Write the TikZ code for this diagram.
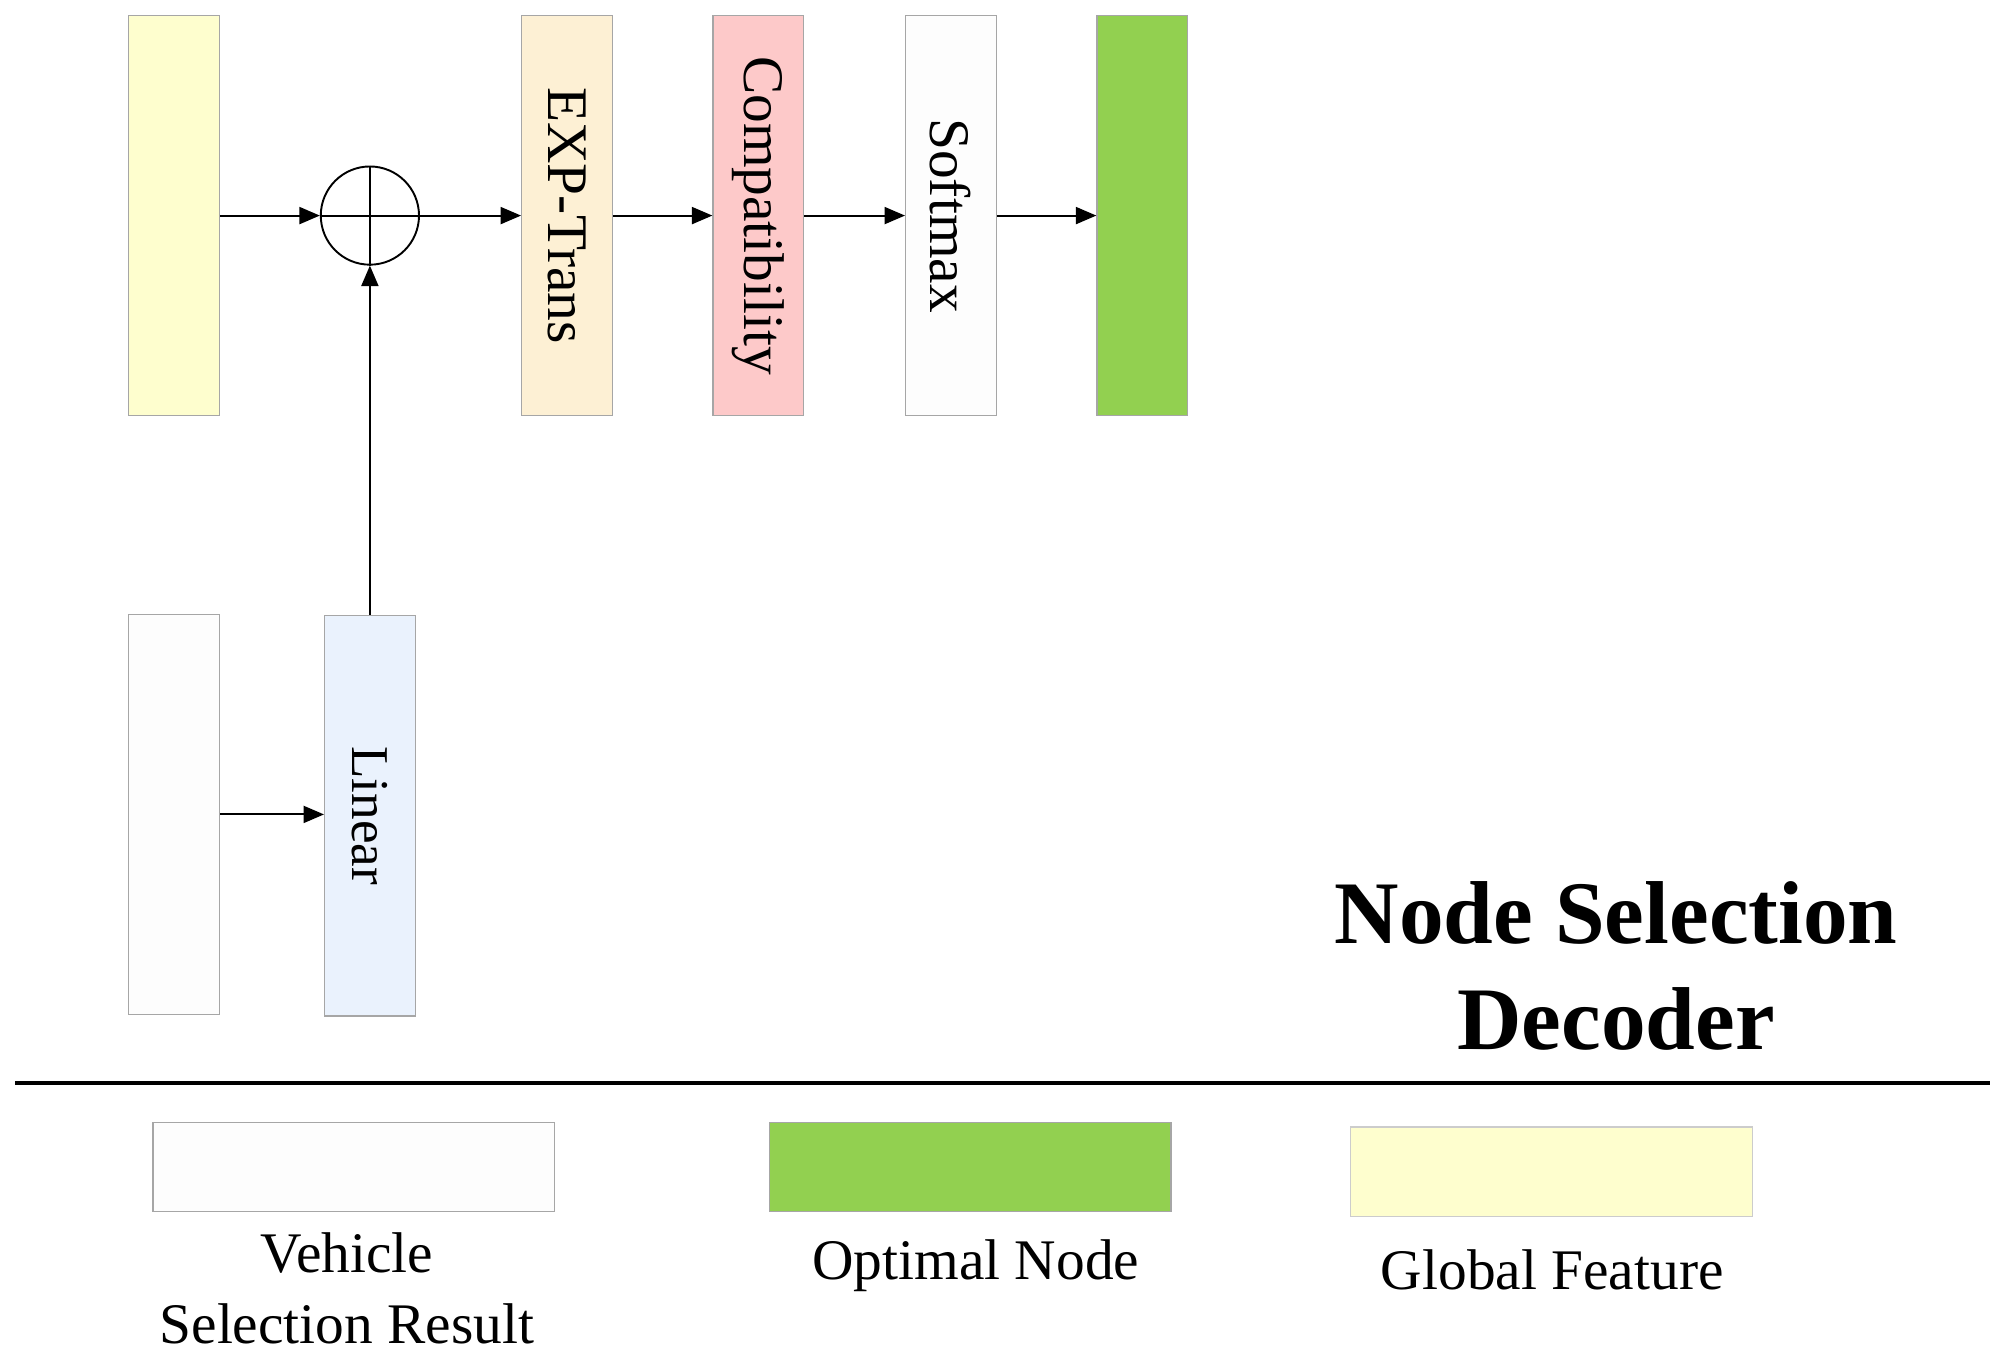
\documentclass[tikz,border=0pt]{standalone}
\usepackage{fontspec}
\setmainfont{Liberation Serif}
\usetikzlibrary{arrows.meta}
\definecolor{gfyellow}{HTML}{FEFECE}
\definecolor{exporange}{HTML}{FDF0D4}
\definecolor{comppink}{HTML}{FDC9C9}
\definecolor{optgreen}{HTML}{92D050}
\definecolor{linblue}{HTML}{EAF2FD}
\definecolor{boxwhite}{HTML}{FDFDFD}
\begin{document}
\begin{tikzpicture}[x=0.6pt,y=-0.6pt,
  bar/.style={draw=gray!70, line width=0.6pt, minimum width=42.6pt, minimum height=188.4pt, inner sep=0pt},
  legbox/.style={draw=gray!70, line width=0.6pt, minimum width=189pt, minimum height=42pt, inner sep=0pt},
  vlabel/.style={rotate=-90, font=\fontsize{27pt}{32pt}\selectfont, inner sep=0pt},
  legtext/.style={anchor=base, font=\fontsize{27pt}{32pt}\selectfont, inner sep=0pt},
  titletext/.style={anchor=base, font=\fontsize{42pt}{50pt}\selectfont\bfseries, inner sep=0pt},
  arr/.style={-{Triangle[length=9.6pt,width=8pt]}, line width=0.9pt},
  plainline/.style={line width=0.9pt}
]
\useasboundingbox (0,0) rectangle (1568,1071);
\fill[white] (0,0) rectangle (1568,1071);

% top row
\node[bar, fill=gfyellow] (gf) at (136.5,169) {};
\node[circle, draw, line width=0.9pt, minimum size=46.2pt, inner sep=0pt] (sum) at (290,169) {};
\draw[plainline] (sum.north) -- (sum.south);
\draw[plainline] (sum.west) -- (sum.east);
\node[bar, fill=exporange] (exp) at (444.5,169) {};
\node[vlabel] (expl) at (exp.center) {EXP-Trans};
\node[bar, fill=comppink] (comp) at (594.5,169) {};
\node[vlabel] (compl) at (comp.center) {Compatibility};
\node[bar, fill=boxwhite] (soft) at (745.5,169) {};
\node[vlabel] (softl) at (soft.center) {Softmax};
\node[bar, fill=optgreen] (opt) at (895.5,169) {};

% bottom row
\node[bar, fill=boxwhite] (veh) at (136.5,638.5) {};
\node[bar, fill=linblue] (lin) at (290,639.5) {};
\node[vlabel, font=\fontsize{25pt}{30pt}\selectfont] (linl) at (lin.center) {Linear};

% connectors
\draw[arr] (gf.east) -- (sum.west);
\draw[arr] (sum.east) -- (exp.west);
\draw[arr] (exp.east) -- (comp.west);
\draw[arr] (comp.east) -- (soft.west);
\draw[arr] (soft.east) -- (opt.west);
\draw[arr] (veh.east) -- (veh.east -| lin.west);
\draw[arr] (lin.north) -- (sum.south);

% title
\node[titletext] (title1) at (1267,740) {Node Selection};
\node[titletext] (title2) at (1267,823) {Decoder};

% separator
\coordinate (sepL) at (12,849);
\coordinate (sepR) at (1560,849);
\draw[line width=2pt] (sepL) -- (sepR);

% legend
\node[legbox, fill=boxwhite] (legveh) at (277.5,915) {};
\node[legbox, fill=optgreen] (legopt) at (760.5,915) {};
\node[legbox, fill=gfyellow, draw=gray!40] (leggf) at (1216.5,918.5) {};
\node[legtext] (legvehA) at (272,998) {Vehicle};
\node[legtext] (legvehB) at (272,1053) {Selection Result};
\node[legtext] (legoptt) at (765,1003) {Optimal Node};
\node[legtext] (leggft) at (1217,1011) {Global Feature};
\end{tikzpicture}
\end{document}
